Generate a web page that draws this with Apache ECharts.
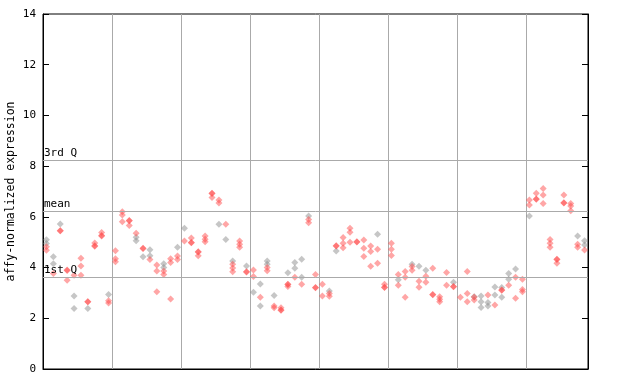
<!DOCTYPE html>
<html>
<head>
<meta charset="utf-8">
<script src="https://cdn.jsdelivr.net/npm/echarts@6/dist/echarts.min.js"></script>
<style>
html,body{margin:0;padding:0;background:#fff;}
#chart{width:640px;height:384px;}
</style>
</head>
<body>
<div id="chart"></div>
<script>
// Per-sample values (column index = sample), red = highlighted, gray = other
var redValues = [
  [4.82,4.68],[3.77],[5.45,5.45],[3.9,3.88,3.5],[3.7],[4.37,4.06,3.7],[2.65,2.65],[4.97,4.86,4.84],[5.38,5.26,5.25],[2.69,2.6],
  [4.66,4.35,4.23],[6.2,6.07,5.81],[5.86,5.85,5.66],[5.35],[4.76,4.75],[4.32],[4.1,3.86,3.05],[3.86,3.73],[4.35,4.2,2.76],[4.46,4.32],
  [5.05],[5.17,4.99,4.98],[4.62,4.61,4.47],[5.25,5.12,5.02],[6.93,6.92,6.76],[6.66,6.55],[5.71],[4.13,3.98,3.84],[5.05,4.92,4.8],[3.84,3.83],
  [3.9,3.65],[2.83],[4.0,3.87],[2.48,2.42],[2.42,2.33,2.32],[3.34,3.33,3.25],[3.62],[3.34],[5.9,5.77],[3.73,3.21,3.2],
  [3.34,2.88],[2.98,2.87],[4.86,4.85],[5.19,4.96,4.78],[5.55,5.39,5.0],[5.02,5.01],[5.09,4.76,4.44],[4.85,4.63,4.05],[4.72,4.17],[3.34,3.22,3.21],
  [4.96,4.72,4.48],[3.73,3.3],[3.85,3.62,2.83],[4.04,3.89],[3.46,3.22],[3.66,3.42],[3.97,2.94,2.93],[2.85,2.75,2.65],[3.81,3.3],[3.25,3.24],
  [2.83],[3.85,2.98,2.65],[2.84,2.72],[],[2.92],[2.52],[3.12,3.11],[3.3],[3.62,2.79],[3.54,3.14,3.05],
  [6.66,6.47],[6.93,6.7,6.69],[7.12,6.86,6.53],[5.11,4.96,4.8],[4.33,4.32,4.17],[6.86,6.56,6.55],[6.53,6.43,6.24],[4.92,4.8],[4.69]
];
var grayValues = [
  [5.1,4.95],[4.43,4.15],[5.72],[],[2.88,2.39],[],[2.39],[],[],[2.94],
  [],[],[],[5.2,5.06],[4.43],[4.7,4.47],[],[4.15,4.0],[],[4.8],
  [5.55],[],[],[],[],[5.71],[5.11],[4.26],[],[4.06],
  [3.03],[3.35,2.48],[4.26,4.13],[2.9],[],[3.8],[4.2,3.97],[4.33,3.62],[6.03],[],
  [],[3.08],[4.65],[],[],[],[],[],[5.31],[],
  [],[3.52],[],[4.13],[4.05],[3.89],[],[],[],[3.42],
  [],[],[2.85],[2.88,2.65,2.43],[2.62,2.48],[3.23,2.92],[3.21,2.83],[3.77,3.54],[3.94],[],
  [6.03],[],[],[],[],[],[],[5.25],[5.06,4.89]
];
var quartiles = {q3: 8.24, mean: 6.23, q1: 3.63};
var yTicks = [0,2,4,6,8,10,12,14];
var nSamples = 79;

function toPoints(arr){
  var out=[];
  arr.forEach(function(vals,i){ vals.forEach(function(v){ out.push([i+0.5,v]); }); });
  return out;
}

var chart = echarts.init(document.getElementById('chart'), null, {renderer:'canvas'});
var font = 'DejaVu Sans Mono';
chart.setOption({
  animation:false,
  backgroundColor:'#fff',
  grid:{left:43,right:52,top:14,bottom:15,containLabel:false,outerBoundsMode:'none',
    show:true,borderColor:'#000',borderWidth:1,backgroundColor:'transparent'},
  xAxis:{type:'value',min:0,max:nSamples,interval:10,
    axisLine:{show:true,lineStyle:{color:'#000',width:1}},
    axisTick:{show:false},axisLabel:{show:false},
    splitLine:{show:true,lineStyle:{color:'#aaaaaa',width:1}}},
  yAxis:[{type:'value',min:0,max:14,interval:2,
    name:'affy-normalized expression',nameLocation:'middle',nameGap:26,nameMoveOverlap:false,
    nameTextStyle:{fontFamily:font,fontSize:11.5,color:'#000'},
    axisLine:{show:true,lineStyle:{color:'#000'}},
    axisTick:{show:true,inside:true,length:6,lineStyle:{color:'#000'}},
    axisLabel:{fontFamily:font,fontSize:11,color:'#000',margin:7},
    splitLine:{show:false}},
   {type:'value',min:0,max:14,interval:2,position:'right',
    axisLine:{show:true,lineStyle:{color:'#000'}},
    axisTick:{show:true,inside:true,length:6,lineStyle:{color:'#000'}},
    axisLabel:{show:false},splitLine:{show:false}}],
  series:[
    {type:'scatter',name:'other',symbol:'diamond',symbolSize:7,
     itemStyle:{color:'rgba(136,136,136,0.6)'},data:toPoints(grayValues),
     markLine:{silent:true,symbol:'none',
       lineStyle:{color:'#aaaaaa',width:1,type:'solid'},
       label:{position:'insideStartTop',distance:[1,1],fontFamily:font,fontSize:11,color:'#000',padding:[0,0,0,0]},
       data:[{yAxis:quartiles.q3,label:{formatter:'3rd Q'}},
             {yAxis:quartiles.mean,label:{formatter:'mean'}},
             {yAxis:quartiles.q1,label:{formatter:'1st Q'}}]}},
    {type:'scatter',name:'selected',symbol:'diamond',symbolSize:7,
     itemStyle:{color:'rgba(255,70,70,0.6)'},data:toPoints(redValues)}
  ]
});
</script>
</body>
</html>
